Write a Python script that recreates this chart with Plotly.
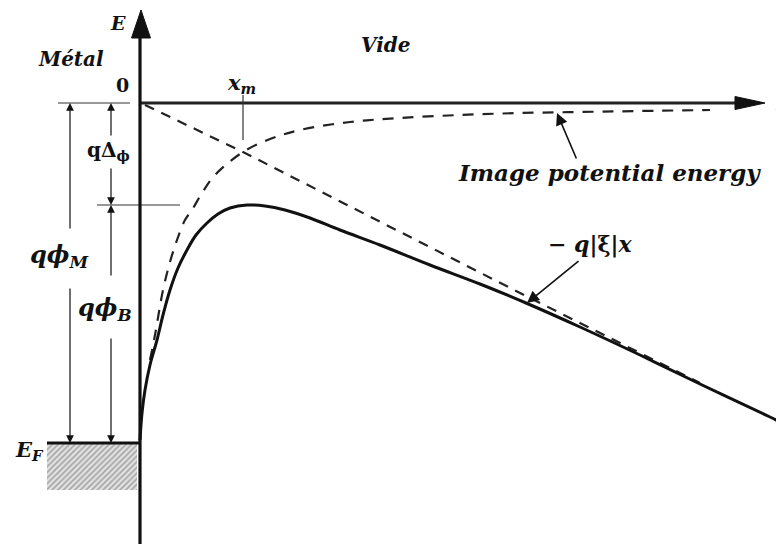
import plotly.graph_objects as go

# ---- data (x in arbitrary length units, E in energy units; vacuum level = 0) ----
barrier_x = [0, 0.02, 0.05, 0.10, 0.17, 0.23, 0.30, 0.38, 0.47, 0.56, 0.67, 0.78, 0.90, 1.07,
             1.25, 1.45, 1.70, 2.00, 2.40, 2.90, 3.40, 3.86, 4.40, 5.00, 5.60, 6.30, 6.44]
barrier_E = [-3.37, -3.10, -2.87, -2.62, -2.37, -2.12, -1.87, -1.65, -1.47, -1.32, -1.20, -1.11,
             -1.05, -1.02, -1.03, -1.07, -1.15, -1.27, -1.42, -1.62, -1.81, -2.00, -2.24, -2.52,
             -2.81, -3.14, -3.21]
image_x = [0.10, 0.15, 0.23, 0.30, 0.37, 0.45, 0.52, 0.62, 0.75, 1.03, 1.30, 1.60, 2.10, 2.60,
           3.20, 3.80, 4.40, 5.00, 5.70]
image_E = [-2.57, -2.32, -1.87, -1.59, -1.37, -1.17, -1.07, -0.90, -0.72, -0.49, -0.36, -0.27,
           -0.19, -0.15, -0.12, -0.10, -0.09, -0.08, -0.07]
field_x = [0.05, 1.03, 3.86, 5.60]
field_E = [-0.02, -0.49, -1.93, -2.80]

E_vac = 0.0
E_F = -3.40
E_top = -1.02
x_m = 1.03
metal_x = [-0.93, -0.03]
metal_E = [E_F, -3.87]

FONT = "DejaVu Serif"

fig = go.Figure()
fig.add_trace(go.Scatter(x=[metal_x[0], metal_x[1], metal_x[1], metal_x[0], metal_x[0]],
                         y=[metal_E[0], metal_E[0], metal_E[1], metal_E[1], metal_E[0]],
                         fill="toself", mode="none", fillcolor="rgba(255,255,255,0)",
                         fillpattern=dict(shape="/", fgcolor="#666", bgcolor="#e2e2e2",
                                          size=4, solidity=0.4),
                         showlegend=False, hoverinfo="skip"))
fig.add_trace(go.Scatter(x=image_x, y=image_E, mode="lines", line_shape="spline",
                         line=dict(color="#222", width=2.2, dash="11px,9px"), showlegend=False))
fig.add_trace(go.Scatter(x=field_x, y=field_E, mode="lines",
                         line=dict(color="#222", width=2.2, dash="10px,8px"), showlegend=False))
fig.add_trace(go.Scatter(x=barrier_x, y=barrier_E, mode="lines", line_shape="spline",
                         line=dict(color="#111", width=3), showlegend=False))

shapes = []
def seg(x0, y0, x1, y1, w=1.2, c="#333"):
    shapes.append(dict(type="line", x0=x0, y0=y0, x1=x1, y1=y1, xref="x", yref="y",
                       line=dict(color=c, width=w)))

def tri(tx, ty, bx0, by0, bx1, by1):
    shapes.append(dict(type="path", xref="x", yref="y",
                       path=f"M {tx},{ty} L {bx0},{by0} L {bx1},{by1} Z",
                       fillcolor="#111", line=dict(color="#111", width=1)))

seg(0, E_vac, 6.0, E_vac, 3, "#222")           # x axis
seg(-0.82, E_vac, -0.10, E_vac, 1.2)           # level 0 left
seg(-0.43, E_top, 0.40, E_top, 1.2)            # barrier top level
seg(metal_x[0], E_F, 0, E_F, 3, "#111")        # Fermi level
seg(x_m, 0.08, x_m, -0.37, 1.2)                # x_m marker
seg(0, -4.45, 0, 0.7, 3.2, "#111")             # E axis
tri(0.01, 0.93, -0.085, 0.65, 0.105, 0.65)     # E axis head
tri(6.25, E_vac, 5.95, 0.065, 5.95, -0.065)    # x axis head

ann = []
def arrow(x, y, ax, ay, w=1.2, s=1.3, head=2):
    ann.append(dict(x=x, y=y, ax=ax, ay=ay, xref="x", yref="y", axref="x", ayref="y",
                    showarrow=True, arrowhead=head, arrowwidth=w, arrowsize=s,
                    arrowcolor="#111", text="", standoff=0, startstandoff=0))

arrow(-0.70, E_vac, -0.70, -1.27)                # qphiM up
arrow(-0.70, E_F, -0.70, -1.84)                  # qphiM down
arrow(-0.29, E_vac, -0.29, -0.34)                # qDelta up
arrow(-0.29, E_top, -0.29, -0.64)                # qDelta down
arrow(-0.29, E_top, -0.29, -1.74)                # qphiB up
arrow(-0.29, E_F, -0.29, -2.34)                  # qphiB down
arrow(4.17, -0.10, 4.37, -0.57, w=1.6, s=1.5)    # image potential label
arrow(3.87, -2.00, 4.40, -1.57, w=1.6, s=1.5)    # field label

def label(x, y, t, size=16, xa="center"):
    ann.append(dict(x=x, y=y, xref="x", yref="y", text=t, showarrow=False, xanchor=xa,
                    font=dict(family=FONT, size=size, color="#111")))

label(-0.22, 0.80, "<b><i>E</i></b>", 19)
label(-0.69, 0.44, "<b><i>Métal</i></b>", 20)
label(2.45, 0.58, "<b><i>Vide</i></b>", 20)
label(-0.18, 0.18, "<b>0</b>", 19)
label(1.01, 0.20, "<b><i>x<sub>m</sub></i></b>", 21)
label(-0.32, -0.48, "<b>qΔ<sub>ϕ</sub></b>", 20)
label(-0.81, -1.53, "<b><i>qϕ<sub>M</sub></i></b>", 24)
label(-0.35, -2.06, "<b><i>qϕ<sub>B</sub></i></b>", 24)
label(-1.11, -3.47, "<b><i>E<sub>F</sub></i></b>", 21)
label(4.69, -0.69, "<b><i>Image potential energy</i></b>", 23)
label(4.50, -1.41, "<b>− <i>q</i>|ξ|<i>x</i></b>", 22)
label(6.33, E_vac, "<b><i>x</i></b>", 20, "left")

# the page body adds an 8px margin, so the figure is 8px smaller than the window
fig.update_layout(width=776, height=536, margin=dict(l=0, r=0, t=0, b=0),
                  paper_bgcolor="white", plot_bgcolor="white",
                  xaxis=dict(range=[-1.32, 6.44], visible=False, fixedrange=True),
                  yaxis=dict(range=[-4.41, 0.95], visible=False, fixedrange=True),
                  shapes=shapes, annotations=ann, showlegend=False)
fig.write_html("out.html")
